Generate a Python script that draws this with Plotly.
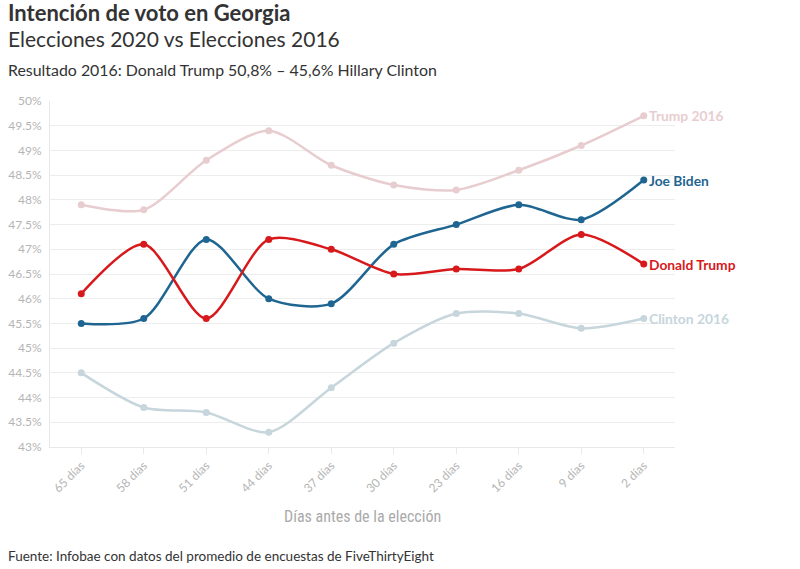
import plotly.graph_objects as go

categories = ["65 días", "58 días", "51 días", "44 días", "37 días", "30 días", "23 días", "16 días", "9 días", "2 días"]
trump2016 = [47.9, 47.8, 48.8, 49.4, 48.7, 48.3, 48.2, 48.6, 49.1, 49.7]
biden = [45.5, 45.6, 47.2, 46.0, 45.9, 47.1, 47.5, 47.9, 47.6, 48.4]
trump = [46.1, 47.1, 45.6, 47.2, 47.0, 46.5, 46.6, 46.6, 47.3, 46.7]
clinton2016 = [44.5, 43.8, 43.7, 43.3, 44.2, 45.1, 45.7, 45.7, 45.4, 45.6]
ytick_vals = [43, 43.5, 44, 44.5, 45, 45.5, 46, 46.5, 47, 47.5, 48, 48.5, 49, 49.5, 50]
ytick_text = ["43%", "43.5%", "44%", "44.5%", "45%", "45.5%", "46%", "46.5%", "47%", "47.5%", "48%", "48.5%", "49%", "49.5%", "50%"]

series = [
    ("Trump 2016", trump2016, "#e8cdd0"),
    ("Clinton 2016", clinton2016, "#c6d6dc"),
    ("Joe Biden", biden, "#1f6591"),
    ("Donald Trump", trump, "#d7191c"),
]

FONT = "Source Sans Pro, Lato, Noto Sans, sans-serif"
fig = go.Figure()
for name, vals, col in series:
    fig.add_trace(go.Scatter(
        x=list(range(len(categories))), y=vals, name=name, mode="lines+markers",
        line=dict(color=col, width=2.5, shape="spline", smoothing=0.8),
        marker=dict(color=col, size=7), hoverinfo="x+y",
    ))
    fig.add_annotation(x=len(vals) - 1, y=vals[-1], xref="x", yref="y", text="<b>%s</b>" % name,
                       showarrow=False, xanchor="left", xshift=3, yanchor="middle",
                       font=dict(family=FONT, size=13.8, color=col))

fig.update_layout(
    width=800, height=569, margin=dict(l=50, r=125, t=101, b=122),
    paper_bgcolor="white", plot_bgcolor="white", showlegend=False,
    font=dict(family=FONT, color="#333"),
    xaxis=dict(range=[-0.5, 9.5], tickvals=list(range(len(categories))), ticktext=categories,
               tickangle=-45, tickfont=dict(size=12, color="#b5b5b5"), showgrid=False, automargin=False,
               showline=True, linecolor="#e8e8e8", linewidth=1, ticks="outside", ticklen=6,
               tickcolor="#e8e8e8", zeroline=False),
    yaxis=dict(range=[43, 50], tickvals=ytick_vals, ticktext=ytick_text, automargin=False,
               tickfont=dict(size=12, color="#b5b5b5"), showgrid=True, gridcolor="#ededed",
               showline=True, linecolor="#e8e8e8", zeroline=False, ticks="", ticklabelstandoff=5),
)

def py(p):
    return (447 - p) / 346

def px(p):
    return (p - 50) / 625

fig.add_annotation(x=px(6), y=py(12), xref="paper", yref="paper", text="<b>Intención de voto en Georgia</b>",
                   showarrow=False, xanchor="left", yanchor="middle", font=dict(size=22, color="#333", family=FONT))
fig.add_annotation(x=px(6), y=py(38), xref="paper", yref="paper", text="Elecciones 2020 vs Elecciones 2016",
                   showarrow=False, xanchor="left", yanchor="middle", font=dict(size=21, color="#333", family=FONT))
fig.add_annotation(x=px(6), y=py(70), xref="paper", yref="paper", text="Resultado 2016: Donald Trump 50,8% – 45,6% Hillary Clinton",
                   showarrow=False, xanchor="left", yanchor="middle", font=dict(size=15.9, color="#333", family=FONT))
fig.add_annotation(x=px(6), y=py(556), xref="paper", yref="paper", text="Fuente: Infobae con datos del promedio de encuestas de FiveThirtyEight",
                   showarrow=False, xanchor="left", yanchor="middle", font=dict(size=13.5, color="#333", family=FONT))
fig.add_annotation(x=px(362), y=py(516), xref="paper", yref="paper", text="Días antes de la elección",
                   showarrow=False, xanchor="center", yanchor="middle",
                   font=dict(size=16, color="#aaa", family="Liberation Sans Narrow, Roboto Condensed, sans-serif"))

fig.write_html("out.html")
